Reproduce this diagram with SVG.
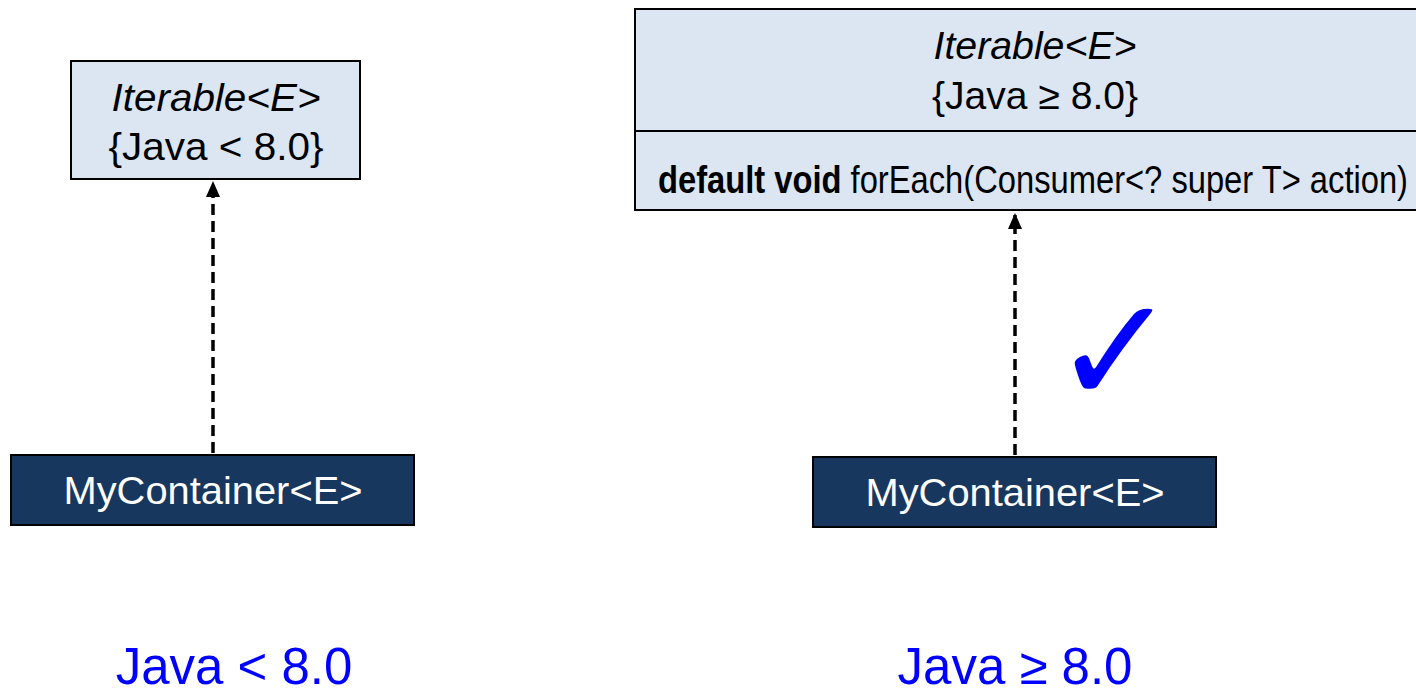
<svg xmlns="http://www.w3.org/2000/svg" width="1416" height="688" viewBox="0 0 1416 688">
<style>
.cls{fill:#dce6f2;stroke:#000;stroke-width:2}
.dark{fill:#17375e;stroke:#000;stroke-width:2}
.t{font-family:"Liberation Sans",Arial,sans-serif;font-size:39px;fill:#000;text-anchor:middle}
.tw{font-family:"Liberation Sans",Arial,sans-serif;font-size:39px;fill:#fff;text-anchor:middle}
.lbl{font-family:"Liberation Sans",Arial,sans-serif;font-size:51px;fill:#0000ff;text-anchor:middle}
.dep{stroke:#000;stroke-width:3.5;stroke-dasharray:11,6;fill:none}
</style>
<defs>
<marker id="ah" markerWidth="16" markerHeight="14" refX="14" refY="7" orient="auto" markerUnits="userSpaceOnUse">
<path d="M0,0 L16,7 L0,14 z" fill="#000"/>
</marker>
</defs>
<g id="iterable-old">
<rect class="cls" x="71" y="61" width="289" height="118"/>
<text class="t" x="216" y="111" font-style="italic" textLength="209" lengthAdjust="spacingAndGlyphs">Iterable&lt;E&gt;</text>
<text class="t" x="216" y="160" textLength="215" lengthAdjust="spacingAndGlyphs">{Java &lt; 8.0}</text>
</g>
<g id="iterable-new">
<rect class="cls" x="635" y="9" width="790" height="201"/>
<line x1="635" y1="131" x2="1425" y2="131" stroke="#000" stroke-width="2"/>
<text class="t" x="1035" y="59" font-style="italic" textLength="203" lengthAdjust="spacingAndGlyphs">Iterable&lt;E&gt;</text>
<text class="t" x="1035" y="109" textLength="206" lengthAdjust="spacingAndGlyphs">{Java ≥ 8.0}</text>
<text class="t" x="658" y="193" style="text-anchor:start" textLength="750" lengthAdjust="spacingAndGlyphs"><tspan font-weight="bold">default void</tspan> forEach(Consumer&lt;? super T&gt; action)</text>
</g>
<g id="mycontainer-old">
<rect class="dark" x="11" y="455" width="403" height="70"/>
<text class="tw" x="213" y="504" textLength="299" lengthAdjust="spacingAndGlyphs">MyContainer&lt;E&gt;</text>
</g>
<g id="mycontainer-new">
<rect class="dark" x="813" y="457" width="403" height="70"/>
<text class="tw" x="1015" y="506" textLength="299" lengthAdjust="spacingAndGlyphs">MyContainer&lt;E&gt;</text>
</g>
<g id="connectors">
<line class="dep" x1="213" y1="453" x2="213" y2="183" marker-end="url(#ah)"/>
<line class="dep" x1="1015" y1="455" x2="1015" y2="215" marker-end="url(#ah)"/>
</g>
<g id="check">
<text x="1115" y="403" font-family="DejaVu Sans,sans-serif" font-size="150" font-weight="bold" fill="#0000ff" text-anchor="middle">✓</text>
</g>
<g id="labels">
<text class="lbl" x="234" y="684">Java &lt; 8.0</text>
<text class="lbl" x="1015" y="684">Java ≥ 8.0</text>
</g>
</svg>
